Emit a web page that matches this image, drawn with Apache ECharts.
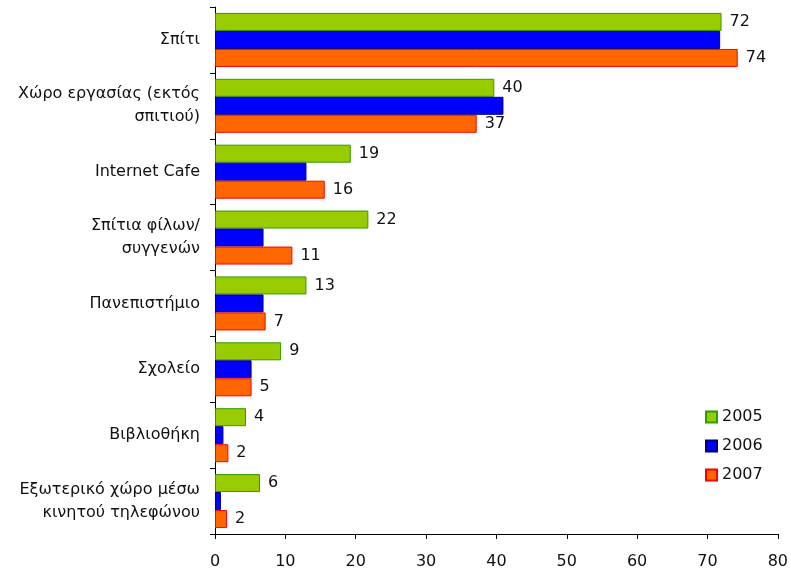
<!DOCTYPE html>
<html>
<head>
<meta charset="utf-8">
<script src="https://cdn.jsdelivr.net/npm/echarts@6/dist/echarts.min.js"></script>
<style>
  html, body { margin: 0; padding: 0; background: #fff; }
  #chart { width: 791px; height: 571px; }
</style>
</head>
<body>
<div id="chart"></div>
<script>
// categories (top to bottom)
var places = [
  'Σπίτι',
  'Χώρο εργασίας (εκτός\nσπιτιού)',
  'Internet Cafe',
  'Σπίτια φίλων/\nσυγγενών',
  'Πανεπιστήμιο',
  'Σχολείο',
  'Βιβλιοθήκη',
  'Εξωτερικό χώρο μέσω\nκινητού τηλεφώνου'
];
var years = ['2005', '2006', '2007'];

// percentages (labels are rounded)
var values2005 = [72, 39.7, 19.3, 21.8, 13, 9.4, 4.4, 6.4];
var values2006 = [71.8, 41, 13, 6.9, 6.9, 5.2, 1.2, 0.85];
var values2007 = [74.3, 37.2, 15.6, 11, 7.2, 5.2, 1.9, 1.7];

var xTicks = [0, 10, 20, 30, 40, 50, 60, 70, 80];

var fontFam = 'DejaVu Sans';

function barLabel(show) {
  return {
    show: show,
    position: 'right',
    distance: 8,
    color: '#111',
    fontFamily: fontFam,
    fontSize: 16,
    formatter: function (p) { return Math.round(p.value); }
  };
}

var chart = echarts.init(document.getElementById('chart'));
var option = {
  animation: false,
  backgroundColor: '#fff',
  grid: { left: 215, right: 10, top: 7, bottom: 37, containLabel: false },
  legend: {
    orient: 'vertical',
    left: 705,
    top: 409,
    padding: 0,
    icon: 'rect',
    itemWidth: 11,
    itemHeight: 11,
    itemGap: 13,
    textStyle: { fontFamily: fontFam, fontSize: 16, color: '#111' },
    data: years
  },
  xAxis: {
    type: 'value',
    min: xTicks[0],
    max: xTicks[xTicks.length - 1],
    interval: 10,
    splitLine: { show: false },
    axisLine: { show: true, lineStyle: { color: '#000', width: 1 } },
    axisTick: { show: true, length: 5, lineStyle: { color: '#000' } },
    axisLabel: { fontFamily: fontFam, fontSize: 16, color: '#111', margin: 20 }
  },
  yAxis: {
    type: 'category',
    inverse: true,
    data: places,
    axisLine: { show: true, lineStyle: { color: '#000', width: 1 } },
    axisTick: { show: true, length: 5, lineStyle: { color: '#000' } },
    axisLabel: {
      fontFamily: fontFam, fontSize: 16, color: '#111', margin: 15,
      lineHeight: 23, align: 'right'
    }
  },
  series: [
    {
      name: years[0], type: 'bar', data: values2005,
      barGap: 0, barCategoryGap: '18%',
      itemStyle: { color: '#99CC00', borderColor: '#339900', borderWidth: 1 },
      label: barLabel(true)
    },
    {
      name: years[1], type: 'bar', data: values2006,
      barGap: 0, barCategoryGap: '18%',
      itemStyle: { color: '#0000FF', borderColor: '#000080', borderWidth: 1 },
      label: barLabel(false)
    },
    {
      name: years[2], type: 'bar', data: values2007,
      barGap: 0, barCategoryGap: '18%',
      itemStyle: { color: '#FF6600', borderColor: '#FF0000', borderWidth: 1 },
      label: barLabel(true)
    }
  ]
};
chart.setOption(option);
</script>
</body>
</html>
